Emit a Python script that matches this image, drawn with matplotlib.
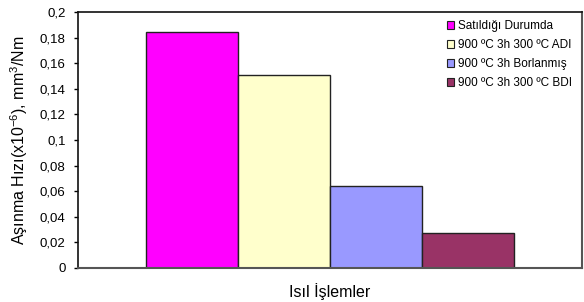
import matplotlib
matplotlib.use("Agg")
import matplotlib.pyplot as plt
from matplotlib.patches import Patch

series_names = ["Satıldığı Durumda", "900 ºC 3h 300 ºC ADI", "900 ºC 3h Borlanmış", "900 ºC 3h 300 ºC BDI"]
values = [0.184, 0.151, 0.064, 0.027]
colors = ["#FF00FF", "#FFFFCC", "#9999FF", "#993366"]
yticks = [0, 0.02, 0.04, 0.06, 0.08, 0.1, 0.12, 0.14, 0.16, 0.18, 0.2]
ytick_labels = ["0", "0,02", "0,04", "0,06", "0,08", "0,1", "0,12", "0,14", "0,16", "0,18", "0,2"]
xlabel = "Isıl İşlemler"
ylabel = "Aşınma Hızı(x10$^{-6}$), mm$^3$/Nm"

plt.rcParams['font.family'] = ['Liberation Sans', 'DejaVu Sans']
plt.rcParams['mathtext.fontset'] = 'custom'
plt.rcParams['mathtext.rm'] = 'Liberation Sans'
plt.rcParams['mathtext.it'] = 'Liberation Sans'

fig = plt.figure(figsize=(5.84, 3.02), dpi=100)
ax = fig.add_axes([78/584, 34/302, 504/584, 256/302])

group_w = 0.73
bw = group_w / len(values)
for i, (v, c, n) in enumerate(zip(values, colors, series_names)):
    x = -group_w/2 + bw*(i+0.5)
    ax.bar(x, v, width=bw, color=c, edgecolor='#222222', linewidth=1.0, label=n)

ax.set_xlim(-0.5, 0.5)
ax.set_ylim(0, 0.2)
ax.set_yticks(yticks)
ax.set_yticklabels(ytick_labels, fontsize=9.5)
ax.set_xticks([])
ax.tick_params(axis='y', direction='out', length=3, width=1, pad=6)
for s in ['left', 'top']:
    ax.spines[s].set_color('#111111')
    ax.spines[s].set_linewidth(1.2)
for s in ['right', 'bottom']:
    ax.spines[s].set_color('#555555')
    ax.spines[s].set_linewidth(1.5)

ax.set_xlabel(xlabel, fontsize=11.5, labelpad=11)
ax.set_ylabel(ylabel, fontsize=11.5, labelpad=7)

handles = [Patch(facecolor=c, edgecolor='#222222', linewidth=0.8) for c in colors]
leg = ax.legend(handles, series_names, loc='upper left', bbox_to_anchor=(447/584, 1 - 20/302),
                bbox_transform=fig.transFigure, frameon=False, fontsize=8.5,
                handlelength=0.6, handleheight=0.6, handletextpad=0.3, labelspacing=0.6,
                borderaxespad=0, borderpad=0)

fig.savefig("out.png", dpi=100)
